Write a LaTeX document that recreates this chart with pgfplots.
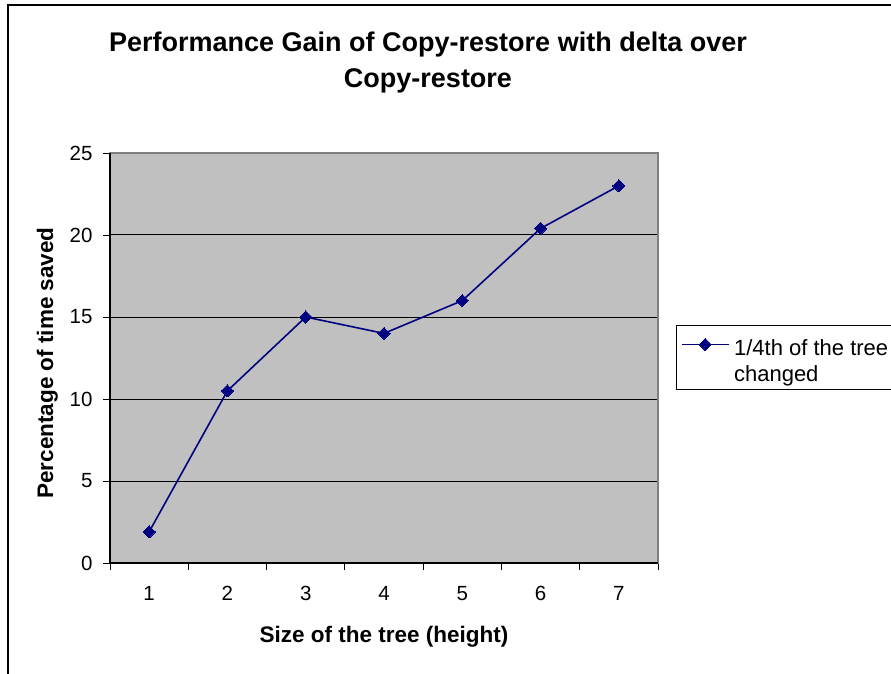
\documentclass[border=0pt]{standalone}
\usepackage{pgfplots}
\pgfplotsset{compat=1.18}
\usepackage{fontspec}
\setmainfont{Liberation Sans}
\definecolor{navy}{HTML}{000080}
\definecolor{plotgray}{HTML}{C0C0C0}
\definecolor{framegray}{HTML}{808080}
\begin{document}
\begin{tikzpicture}[x=1pt,y=1pt]
\useasboundingbox (0,0) rectangle (891,673);
\fill[white] (0,0) rectangle (891,673);
\draw[line width=2pt] (8,-5) -- (8,668) -- (900,668);
\node[anchor=base, font=\fontsize{27}{32}\selectfont\bfseries] at (428,621) {Performance Gain of Copy-restore with delta over};
\node[anchor=base, font=\fontsize{27}{32}\selectfont\bfseries] at (428,585) {Copy-restore};
\begin{axis}[
  at={(110pt,110pt)}, anchor=south west,
  scale only axis, width=548pt, height=410pt,
  xmin=0.5, xmax=7.5, ymin=0, ymax=25,
  xtick={1,...,7}, ytick={0,5,...,25},
  minor xtick={0.5,1.5,...,7.5},
  xtick pos=bottom, ytick pos=left,
  tick align=outside,
  major tick length=7pt, minor tick length=7pt,
  major x tick style={draw=none},
  tick style={black, line width=0.8pt},
  ymajorgrids, major grid style={black, line width=1pt},
  axis line style={framegray, line width=1.2pt},
  axis background/.style={fill=plotgray},
  ticklabel style={font=\fontsize{20.5}{24}\selectfont},
  /pgf/number format/assume math mode=true,
  xticklabel style={anchor=base, yshift=-30pt},
  yticklabel style={anchor=east, xshift=-7pt},
  xlabel={Size of the tree (height)},
  ylabel={Percentage of time saved},
  xlabel style={at={(axis description cs:0.5,-0.1951)}, anchor=base, font=\fontsize{22.5}{27}\selectfont\bfseries},
  ylabel style={at={(axis description cs:-0.104,0.4878)}, anchor=base, rotate=0, font=\fontsize{22.5}{27}\selectfont\bfseries},
  legend style={at={(rel axis cs:1.0328,0.5805)}, anchor=north west, draw=black, line width=1pt, fill=white,
    font=\fontsize{22}{26}\selectfont, inner xsep=5pt, inner ysep=3pt, row sep=5pt,
    nodes={inner xsep=3pt, inner ysep=0pt, text depth=5pt}},
  legend cell align=left,
  legend image code/.code={\draw[mark repeat=2,mark phase=2] plot coordinates {(0pt,0pt) (23pt,0pt) (47pt,0pt)};},
  clip=false,
]
\addplot[navy, line width=1.6pt, mark=square*, mark size=4.3pt, mark options={rotate=45, fill=navy, draw=navy, line width=0pt}]
  coordinates {(1,1.9) (2,10.5) (3,15) (4,14) (5,16) (6,20.4) (7,23)};
\addlegendentry{\rule{0pt}{27pt}\hspace*{1pt}1/4th of the tree}
\addlegendimage{empty legend}
\addlegendentry{\hspace*{1pt}changed}
\draw[black, line width=1.2pt] (rel axis cs:0,1) -- (rel axis cs:0,0) -- (rel axis cs:1,0);
\end{axis}
\end{tikzpicture}
\end{document}
